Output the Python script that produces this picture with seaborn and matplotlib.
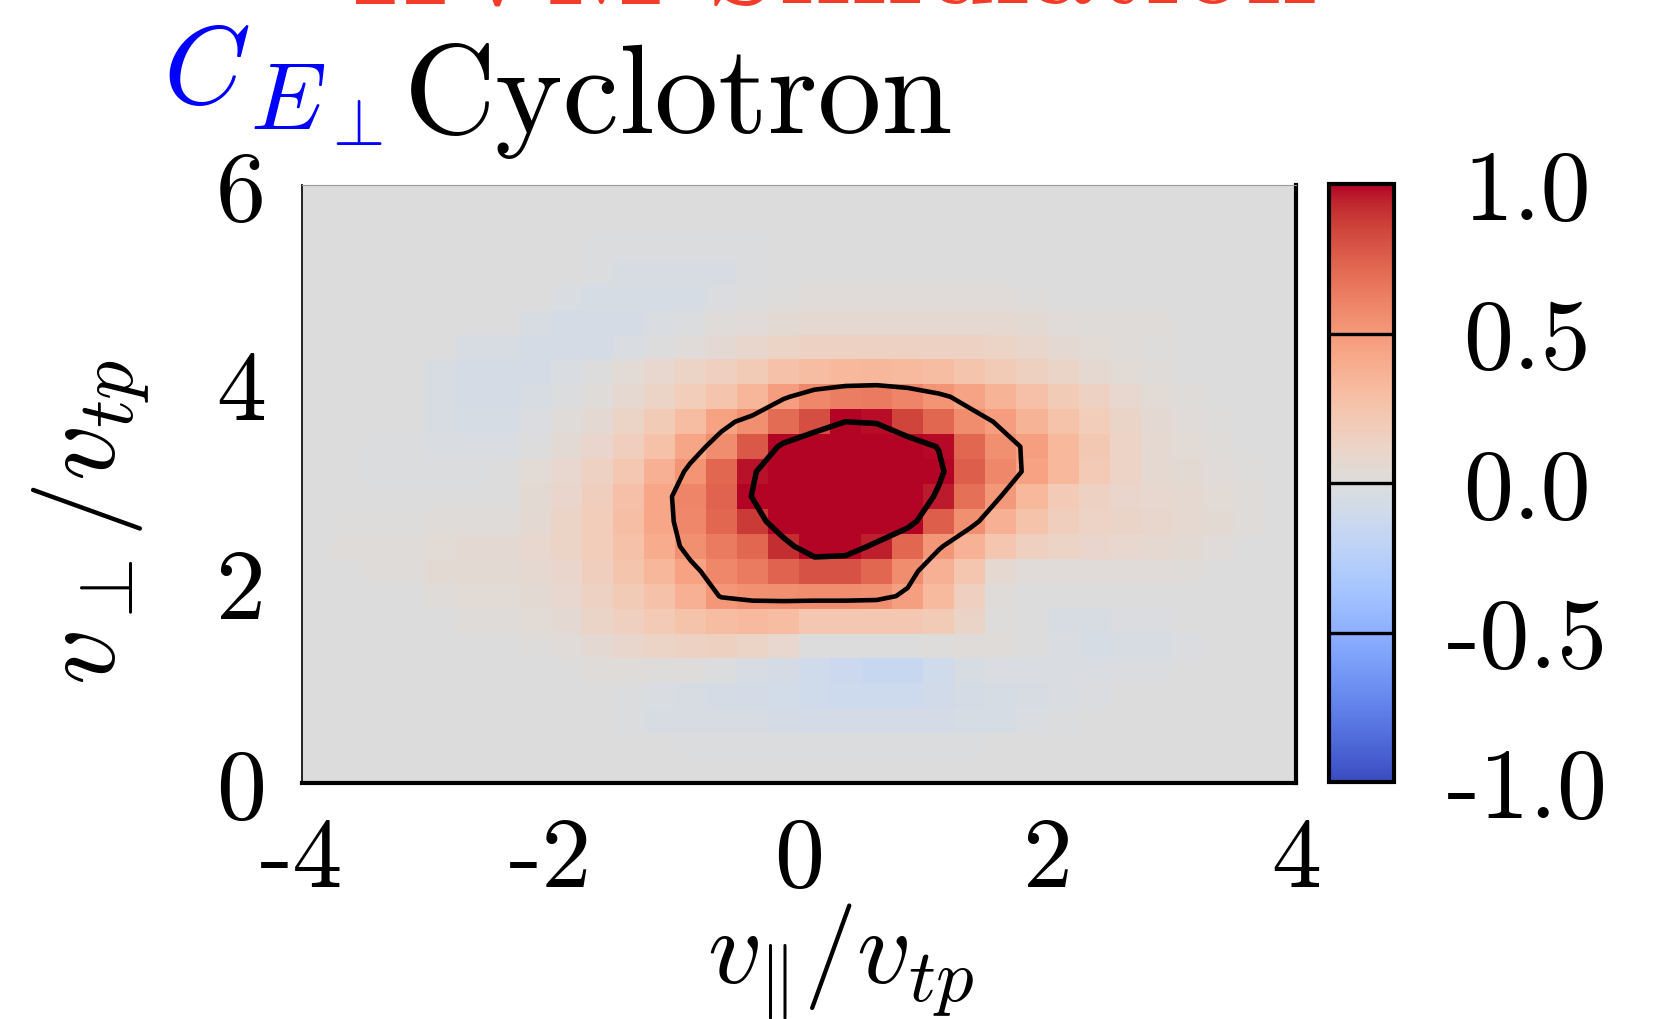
import numpy as np
import pandas as pd
import matplotlib
matplotlib.use("Agg")
import matplotlib.pyplot as plt
import seaborn as sns

# ---------------- data ----------------
# velocity-space grid: cell centres (dv = 0.25)
v_par_centers = np.arange(-4 + 0.125, 4, 0.25)      # 32 columns, v_par / v_tp
v_perp_centers = np.arange(6 - 0.125, 0, -0.25)     # 24 rows, top (6) -> bottom (0)

# correlation C_E_perp(v_par, v_perp), rows from v_perp = 6 (top) to 0 (bottom)
corr_values = [
    [0, 0, 0, 0, 0, 0, 0, 0, 0, 0, 0, 0, 0, 0, 0, 0, 0, 0, 0, 0, 0, 0, 0, 0, 0, 0, 0, 0, 0, 0, 0, 0],
    [0, 0, 0, 0, 0, 0, 0, 0, 0, 0, 0, 0, 0, 0, 0, 0, 0, 0, 0, 0, 0, 0, 0, 0, 0, 0, 0, 0, 0, 0, 0, 0],
    [0, 0, 0, 0, 0, 0, 0, 0, 0, -.015, -.015, -.015, -.015, -.015, -.015, 0, 0, 0, 0, 0, 0, 0, 0, 0, 0, 0, 0, 0, 0, 0, 0, 0],
    [0, 0, 0, 0, 0, 0, 0, 0, 0, -.01, -.04, -.04, -.04, -.04, -.01, 0, 0, 0, 0, 0, 0, 0, 0, 0, 0, 0, 0, 0, 0, 0, 0, 0],
    [0, 0, 0, 0, 0, 0, 0, 0, -.03, -.05, -.05, -.05, -.05, -.02, 0, .01, .03, .03, .03, .03, .03, .03, .03, .01, 0, 0, 0, 0, 0, 0, 0, 0],
    [0, 0, 0, 0, 0, 0, 0, -.04, -.06, -.06, -.06, -.03, -.01, .02, .03, .05, .07, .07, .07, .07, .07, .07, .07, .05, .03, .02, .02, .02, 0, 0, 0, 0],
    [0, 0, 0, 0, 0, -.04, -.04, -.06, -.06, -.06, -.03, 0, .03, .06, .09, .12, .14, .14, .14, .14, .14, .14, .12, .09, .06, .04, .02, .01, 0, 0, 0, 0],
    [0, 0, 0, 0, -.04, -.06, -.06, -.06, -.03, 0, .04, .08, .12, .16, .2, .27, .3, .33, .34, .32, .3, .25, .2, .15, .11, .07, .04, .02, 0, 0, 0, 0],
    [0, 0, 0, 0, -.04, -.06, -.06, -.04, -.01, .02, .07, .12, .18, .25, .35, .48, .58, .63, .64, .6, .53, .45, .36, .28, .2, .14, .08, .04, .02, 0, 0, 0],
    [0, 0, 0, 0, -.04, -.05, -.05, -.02, .02, .06, .12, .2, .3, .46, .55, .7, .82, 1.0, .98, .85, .72, .56, .48, .36, .26, .18, .11, .06, .03, .01, 0, 0],
    [0, 0, -.01, -.01, -.03, -.03, -.03, 0, .05, .1, .17, .27, .44, .56, .78, 1.05, 1.25, 1.3, 1.25, 1.1, .99, .72, .55, .47, .33, .22, .13, .07, .04, .02, 0, 0],
    [0, 0, -.01, -.01, -.01, -.01, 0, .04, .08, .14, .23, .38, .53, .72, .97, 1.2, 1.4, 1.45, 1.4, 1.25, 1.05, .75, .58, .46, .33, .21, .13, .07, .05, .03, .01, 0],
    [0, 0, 0, 0, 0, 0, 0, .05, .1, .17, .28, .43, .6, .74, 1.01, 1.3, 1.45, 1.45, 1.35, 1.2, .96, .68, .5, .33, .21, .14, .1, .08, .07, .04, .02, 0],
    [0, .01, .01, .01, .02, .02, .02, .06, .12, .18, .29, .43, .58, .72, .88, 1.15, 1.35, 1.3, 1.25, 1.1, .75, .55, .38, .26, .17, .13, .11, .09, .07, .05, .02, 0],
    [0, .02, .02, .02, .04, .06, .06, .08, .12, .18, .27, .4, .55, .64, .72, .92, 1.15, 1.12, .95, .72, .52, .37, .24, .16, .12, .1, .08, .07, .05, .03, 0, 0],
    [0, 0, .02, .02, .05, .05, .05, .07, .1, .17, .25, .34, .46, .58, .64, .74, .8, .8, .72, .56, .38, .24, .07, .03, .03, .03, .03, .03, .02, 0, 0, 0],
    [0, 0, 0, 0, .02, .04, .04, .05, .08, .14, .2, .27, .38, .51, .54, .55, .56, .56, .55, .47, .32, .16, .02, 0, 0, 0, 0, 0, 0, 0, 0, 0],
    [0, 0, 0, 0, 0, .02, .02, .04, .06, .11, .16, .21, .26, .3, .32, .3, .23, .23, .23, .23, .2, .11, .01, 0, -.04, -.04, -.02, -.02, 0, 0, 0, 0],
    [0, 0, 0, 0, 0, 0, 0, .01, .03, .06, .09, .12, .14, .15, .12, .08, 0, 0, 0, 0, .01, .02, .02, 0, -.03, -.05, -.04, -.04, -.02, 0, 0, 0],
    [0, 0, 0, 0, 0, 0, 0, 0, 0, .02, .02, .01, .01, -.01, -.04, -.06, -.1, -.13, -.15, -.15, -.1, -.04, -.03, -.03, -.03, -.03, -.02, -.02, 0, 0, 0, 0],
    [0, 0, 0, 0, 0, 0, 0, 0, 0, 0, -.01, -.03, -.04, -.06, -.07, -.08, -.1, -.11, -.11, -.11, -.09, -.06, -.05, -.04, -.03, -.02, 0, 0, 0, 0, 0, 0],
    [0, 0, 0, 0, 0, 0, 0, 0, 0, 0, -.01, -.04, -.04, -.04, -.04, -.06, -.07, -.07, -.07, -.07, -.07, -.05, -.05, -.03, -.01, 0, 0, 0, 0, 0, 0, 0],
    [0, 0, 0, 0, 0, 0, 0, 0, 0, 0, 0, 0, -.01, -.01, -.01, -.01, -.01, -.01, -.01, -.01, -.01, -.01, 0, 0, 0, 0, 0, 0, 0, 0, 0, 0],
    [0, 0, 0, 0, 0, 0, 0, 0, 0, 0, 0, 0, 0, 0, 0, 0, 0, 0, 0, 0, 0, 0, 0, 0, 0, 0, 0, 0, 0, 0, 0, 0],
]

contour_levels = [0.5, 1.0]
x_ticks = [-4, -2, 0, 2, 4]
x_tick_labels = ["-4", "-2", "0", "2", "4"]
y_ticks = [0, 2, 4, 6]
y_tick_labels = ["0", "2", "4", "6"]
cbar_ticks = [-1.0, -0.5, 0.0, 0.5, 1.0]
cbar_tick_labels = ["-1.0", "-0.5", "0.0", "0.5", "1.0"]
cbar_lines = [-0.5, 0.0, 0.5]

# ---------------- style ----------------
plt.rcParams["font.family"] = ["cmr10", "DejaVu Serif"]
plt.rcParams["mathtext.fontset"] = "cm"
plt.rcParams["axes.unicode_minus"] = False
plt.rcParams["axes.formatter.use_mathtext"] = True

W, H = 1671, 1020
fig = plt.figure(figsize=(W / 100, H / 100), dpi=100)
fig.patch.set_facecolor("white")

def fx(px):
    return px / W

def fy(py):
    return 1 - py / H

L, R, T, B = 302, 1296, 186, 784
ax = fig.add_axes([fx(L), fy(B), fx(R - L), (B - T) / H])
CL, CR, CT, CB = 1329, 1394, 185, 783
cax = fig.add_axes([fx(CL), fy(CB), fx(CR - CL), (CB - CT) / H])

df = pd.DataFrame(np.array(corr_values, dtype=float),
                  index=np.round(v_perp_centers, 3), columns=np.round(v_par_centers, 3))

sns.heatmap(df, ax=ax, cmap="coolwarm", vmin=-1, vmax=1, cbar_ax=cax,
            xticklabels=False, yticklabels=False)

# contours drawn on cell centres (heatmap index coordinates)
Z = df.values
xc = np.arange(Z.shape[1]) + 0.5
yc = np.arange(Z.shape[0]) + 0.5
ax.contour(xc, yc, Z, levels=[contour_levels[0]], colors="black", linewidths=3.3)
ax.contour(xc, yc, Z, levels=[contour_levels[1]], colors="black", linewidths=4.0)

# axis ticks mapped into heatmap index coordinates
ncol, nrow = Z.shape[1], Z.shape[0]
ax.set_xticks([(v + 4) / 8 * ncol for v in x_ticks])
ax.set_xticklabels(x_tick_labels)
ax.set_yticks([(6 - v) / 6 * nrow for v in y_ticks])
ax.set_yticklabels(y_tick_labels, rotation=0)
ax.set_xlim(0, ncol)
ax.set_ylim(nrow, 0)
ax.tick_params(axis="both", length=0, labelsize=72)
ax.tick_params(axis="x", pad=24)
ax.tick_params(axis="y", pad=26)
ax.set_xlabel("")
ax.set_ylabel("")

for s in ax.spines.values():
    s.set_visible(True)
ax.spines["top"].set(color="#9a9a9a", linewidth=0.8)
ax.spines["left"].set(color="#222222", linewidth=1.4)
ax.spines["right"].set(color="black", linewidth=3.0)
ax.spines["bottom"].set(color="black", linewidth=3.0)

# colorbar
cbar = ax.collections[0].colorbar
cbar.set_ticks(cbar_ticks)
cbar.set_ticklabels(cbar_tick_labels)
cbar.outline.set_visible(True)
cbar.outline.set_edgecolor("black")
cbar.outline.set_linewidth(3.0)
for v in cbar_lines:
    cax.axhline(v, color="black", linewidth=2.4)
cax.tick_params(length=0, labelsize=72, pad=96)
for lab in cax.get_yticklabels():
    lab.set_horizontalalignment("center")

# axis labels
fig.text(fx(840), fy(962), r"$v_{\|}/v_{tp}$", fontsize=77,
         ha="center", va="center")
fig.text(fx(92), fy(522), r"$v_{\bot}/v_{tp}$", fontsize=80,
         ha="center", va="center", rotation=90)

# titles
fig.text(fx(834), fy(2), "HVM Simulation", fontsize=93, color="#f23b28",
         ha="center", va="baseline")
fig.text(fx(163), fy(104), r"$C$", fontsize=80, color="blue",
         ha="left", va="baseline")
fig.text(fx(250), fy(130), r"$E_{\bot}$", fontsize=69, color="blue",
         ha="left", va="baseline")
fig.text(fx(404), fy(133), "Cyclotron", fontsize=92, color="black",
         ha="left", va="baseline")

fig.savefig("out.png", dpi=100)
